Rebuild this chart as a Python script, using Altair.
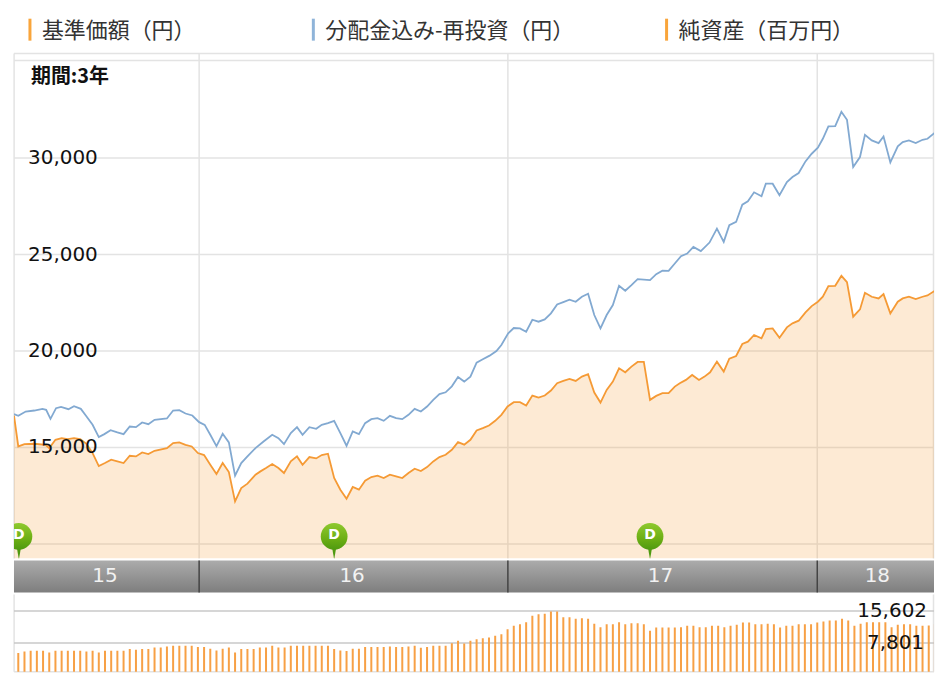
import altair as alt
import pandas as pd

# Week index along the horizontal axis, yen on the vertical axis
blue_x = [-0.69,0,1.2,2.6,3.9,4.5,5.2,6.1,6.9,8.1,9,10.1,10.9,12,13,13.9,14.9,16,17,18,19,20,21,22,24,25,26,27,28.1,29.2,30.1,31,32,33,34,35,36,37,38.3,39.6,41,42,42.9,44,45,45.9,47,48.1,49,50,51,52,53,54,55,56,57,58,59,60,61,62,63,64,65,66,67,68,69,70,71,72,73,74,75,76.1,77.2,78,79.1,80,81,82,83,84,85,86,87,88,89,90,91,92,93,94,95,96,97,98,99,100,102,103,104,105,106,107,108,109,110.2,111.6,112.8,113.9,114.8,115.9,116.9,117.8,118.8,120,120.7,121.8,122.9,124.1,125,126,127.1,128.1,129.1,129.9,130.8,131.9,132.9,133.8,134.8,135.9,136.7,137.8,138.9,139.7,140.8,142,142.8,143.8,144.9,146,146.8,147.9,148.7]
blue_y = [16727,16641,16865,16917,17003,16951,16486,17037,17106,16986,17141,17003,16658,16175,15537,15693,15900,15779,15693,16089,16055,16296,16210,16434,16503,16917,16934,16762,16658,16313,16175,15658,15072,15710,15262,13538,14193,14538,14969,15314,15658,15486,15176,15745,16055,15658,16055,15969,16176,16262,16382,15745,15090,15831,15693,16262,16469,16520,16382,16641,16520,16469,16693,17003,16865,17124,17469,17770,17860,18170,18650,18416,18675,19399,19572,19761,20003,20313,20916,21192,21175,21003,21623,21520,21640,21951,22416,22537,22658,22554,22813,22968,21865,21175,21865,22382,23382,23123,23416,23727,23675,23985,24160,24157,24536,24916,25053,25398,25180,25622,26346,25657,26519,26691,27588,27760,28226,28019,28674,28674,28071,28760,29019,29226,29829,30226,30536,31001,31639,31657,32398,31984,29536,30053,31208,30915,30777,31122,29777,30605,30829,30915,30777,30950,31001,31294,31036]

orange_x = [-0.69,0,1,2.6,4.4,5,6,7,8,9,10,11,12,13,14,15,16,17,18,19,20,21,22,24,25,26,27,28,29,30,31,32,33,34,35,36,37,38.3,39.1,40,41,42,42.9,44,45,45.9,47,48.1,49,50,51,52,53,54,55,56,57,58,59,60,61,62,63,64,65,66,67,68,69,70,71,72,73,74,75,76,77,78,79,80,81,82,83,84,85,86,87,88,89,90,91,92,93,94,95,96,97,98,99,100,101,102,103,104,105,106,106.8,107.8,108.8,109.9,110.8,111.7,112.8,113.9,114.8,115.9,116.9,117.8,118.8,120,120.7,121.8,122.9,124.1,125,126,127.1,128.1,129.1,129.9,130.8,131.9,132.9,133.8,134.8,135.9,136.7,137.8,138.9,139.7,140.8,142,142.8,143.8,144.9,146,146.8,147.9,148.7]
orange_y = [16658,15055,15175,15193,15141,14969,15400,15486,15434,15486,15434,15193,14710,14038,14193,14365,14279,14193,14572,14538,14744,14658,14831,14969,15227,15262,15141,15055,14710,14607,14107,13624,14193,13727,12210,12900,13124,13590,13762,13934,14141,13934,13676,14279,14538,14107,14503,14434,14607,14676,13417,12814,12348,12952,12814,13279,13469,13538,13417,13590,13503,13417,13676,13900,13779,13986,14279,14503,14624,14883,15279,15150,15400,15882,16003,16141,16382,16692,17124,17348,17348,17175,17692,17589,17692,17951,18330,18451,18554,18451,18675,18796,17848,17330,17986,18416,19106,18899,19192,19434,19434,17468,17675,17813,17813,18158,18330,18503,18761,18503,18675,18899,19451,18934,19606,19744,20365,20485,20830,20658,21141,21175,20692,21227,21434,21572,22003,22330,22554,22813,23364,23382,23899,23571,21778,22158,23020,22813,22727,22951,21951,22554,22727,22813,22692,22813,22882,23106,22864]

net_assets = [5357,5761,5923,5923,5923,5519,5923,5923,5923,5923,5923,5761,5923,5519,5923,5923,5923,5923,6327,6165,6327,6327,6731,6731,6973,7134,7134,7134,7134,6811,6811,6407,6003,6407,6731,5519,6327,6327,6327,6731,6731,7134,6731,6731,7134,7134,7134,7134,7134,7134,7134,6327,6003,5842,6407,6407,6811,6811,6811,6811,6973,6811,6811,6973,7134,6650,6811,7134,7134,7134,7781,8347,7700,8347,8750,8993,9155,9559,9963,11175,11983,12387,12871,14407,14811,14891,15457,15457,14083,14083,13679,13841,13679,12467,11659,12387,12387,12871,12387,12629,12629,12387,10771,11579,11579,11579,11579,11659,11983,11983,11659,11659,11983,11983,11659,11983,12225,12790,12790,12387,12387,12467,12387,11579,11983,11983,12387,12387,12387,12790,13033,13275,13275,13679,13275,11983,12467,12871,12871,12871,12871,11659,12225,12387,12387,11983,11983,12063,12387]

y_ticks = [30000, 25000, 20000, 15000]
y_grid = [10000, 15000, 20000, 25000, 30000, 35053, 35415]
year_lines = [29.2, 79.05, 129.0]
year_labels = ["15", "16", "17", "18"]
year_label_x = [14, 53.9, 103.7, 138.7]
pin_x = [0.1, 51, 102]
pin_head_y = [10393, 10393, 10393]
pin_tip_y = [9503, 9503, 9503]
net_ticks = [15602, 7801]
legend_labels = ["基準価額（円）", "分配金込み-再投資（円）", "純資産（百万円）"]
legend_colors = ["#f9a53b", "#8fb4d9", "#f9a53b"]
legend_bar_px = [16, 300, 654]
legend_text_px = [28, 312, 666]

X_DOM = [-0.693, 147.85]
W = 922
Y_FLOOR = 9245
ORANGE = "#f59a35"
BLUE = "#82a9d1"
GRID = "#e3e3e3"
SANS = "DejaVu Sans"
CJK = "Noto Sans CJK JP"

xs = alt.Scale(domain=X_DOM, nice=False, zero=False)
ys = alt.Scale(domain=[Y_FLOOR, 37742], nice=False, zero=False)
X = lambda f="i": alt.X(f"{f}:Q", scale=xs, axis=None)
Y = lambda f="v": alt.Y(f"{f}:Q", scale=ys, axis=None)

blue = pd.DataFrame({"i": blue_x, "v": blue_y})
orange = pd.DataFrame({"i": orange_x, "v": orange_y})

hgrid = alt.Chart(pd.DataFrame({"v": y_grid})).mark_rule(color=GRID, strokeWidth=1.5).encode(
    y=Y(), x=alt.value(0), x2=alt.value(W))
vgrid = alt.Chart(pd.DataFrame({"i": [X_DOM[0] + 0.02] + year_lines + [X_DOM[1] - 0.08], "a": Y_FLOOR, "b": 35415})).mark_rule(
    color=GRID, strokeWidth=1.5).encode(x=X(), y=Y("a"), y2=alt.Y2("b"))
area = alt.Chart(orange).mark_area(color=ORANGE, opacity=0.21, clip=True).encode(
    x=X(), y=Y(), y2=alt.Y2(datum=Y_FLOOR))
line_o = alt.Chart(orange).mark_line(color=ORANGE, strokeWidth=1.8, clip=True).encode(x=X(), y=Y())
line_b = alt.Chart(blue).mark_line(color=BLUE, strokeWidth=1.8, clip=True).encode(x=X(), y=Y())

pin_df = pd.DataFrame({"i": pin_x, "head": pin_head_y, "tip": pin_tip_y, "t": ["D"] * 3})
pin_tail = alt.Chart(pin_df).mark_point(shape="M -0.35 -1 L 0.35 -1 L 0 1 Z", filled=True, fill="#4f9a10", opacity=1,
                                        size=144, clip=True, stroke=None).encode(x=X(), y=Y("tip"))
pin_head = alt.Chart(pin_df).mark_point(
    shape="circle", filled=True, opacity=1, size=720, clip=True, stroke=None,
    fill=alt.Gradient(gradient="linear", x1=0, x2=0, y1=0, y2=1,
                      stops=[alt.GradientStop(offset=0, color="#8fc92f"),
                             alt.GradientStop(offset=0.6, color="#6cae14"),
                             alt.GradientStop(offset=1, color="#4f9a10")])
).encode(x=X(), y=Y("head"))
pin_text = alt.Chart(pin_df).mark_text(color="white", font=SANS, fontSize=14, fontWeight="bold",
                                       baseline="middle", clip=True, dy=-1).encode(x=X(), y=Y("head"), text="t:N")

tick_text = alt.Chart(pd.DataFrame({"v": y_ticks, "t": [f"{v:,}" for v in y_ticks]})).mark_text(
    font=SANS, fontSize=20, color="#111111", align="right", baseline="middle").encode(
    x=alt.value(84), y=Y(), text="t:N")

period = alt.Chart(pd.DataFrame({"t": ["期間:3年"]})).mark_text(
    font=CJK, fontSize=20, fontWeight="bold", color="#111111", align="left", baseline="middle").encode(
    x=alt.value(17), y=alt.value(68), text="t:N")

leg = pd.DataFrame({"t": legend_labels, "c": legend_colors, "bx": legend_bar_px, "tx": legend_text_px})
leg_bars = alt.Chart(leg).mark_rule(strokeWidth=3).encode(
    x=alt.X("bx:Q", scale=None, axis=None), y=alt.value(10), y2=alt.value(32),
    color=alt.Color("c:N", scale=None, legend=None))
leg_text = alt.Chart(leg).mark_text(font=CJK, fontSize=22, color="#333333", align="left", baseline="middle").encode(
    x=alt.X("tx:Q", scale=None, axis=None), y=alt.value(22), text="t:N")

main = alt.layer(hgrid, vgrid, area, line_o, line_b, pin_tail, pin_head, pin_text, tick_text,
                 period, leg_bars, leg_text).properties(width=W, height=551)

band_rect = alt.Chart(pd.DataFrame({"a": [X_DOM[0]], "b": [X_DOM[1]]})).mark_rect(
    fill=alt.Gradient(gradient="linear", x1=0, x2=0, y1=0, y2=1,
                      stops=[alt.GradientStop(offset=0, color="#ababab"),
                             alt.GradientStop(offset=1, color="#7e7e7e")])
).encode(x=X("a"), x2=alt.X2("b"))
band_lines = alt.Chart(pd.DataFrame({"i": year_lines})).mark_rule(color="#444444", strokeWidth=1.5).encode(x=X())
band_text = alt.Chart(pd.DataFrame({"i": year_label_x, "t": year_labels})).mark_text(
    font=SANS, fontSize=20, color="#f2f2f2", baseline="middle").encode(x=X(), y=alt.value(16), text="t:N")
band = alt.layer(band_rect, band_lines, band_text).properties(width=W, height=32)

ns = alt.Scale(domain=[700, 19600], nice=False, zero=False)
NY = lambda f="v": alt.Y(f"{f}:Q", scale=ns, axis=None)
bars_df = pd.DataFrame({"i": list(range(len(net_assets))), "v": net_assets, "b": 825})
b_rules = alt.Chart(pd.DataFrame({"v": net_ticks})).mark_rule(color="#c8c8c8", strokeWidth=1.5).encode(
    y=NY(), x=alt.value(0), x2=alt.value(W))
b_base = alt.Chart(pd.DataFrame({"v": [825]})).mark_rule(color=GRID, strokeWidth=1.5).encode(
    y=NY(), x=alt.value(0), x2=alt.value(W))
b_edges = alt.Chart(pd.DataFrame({"i": [X_DOM[0] + 0.02, X_DOM[1] - 0.08], "a": 825, "b": 19600})).mark_rule(
    color=GRID, strokeWidth=1.5).encode(x=X(), y=NY("a"), y2=alt.Y2("b"))
b_bars = alt.Chart(bars_df).mark_rule(color="#f7a045", strokeWidth=2, clip=True).encode(x=X(), y=NY(), y2=alt.Y2("b"))
b_text = alt.Chart(pd.DataFrame({"v": net_ticks, "t": [f"{v:,}" for v in net_ticks], "px": [915, 912]})).mark_text(
    font=SANS, fontSize=20, color="#111111", align="right", baseline="middle").encode(
    x=alt.X("px:Q", scale=None, axis=None), y=NY(), text="t:N")
bars = alt.layer(b_edges, b_base, b_rules, b_bars, b_text).properties(width=W, height=78)

chart = alt.vconcat(main, band, bars, spacing=0).resolve_scale(
    x="independent", y="independent").properties(
    padding={"left": 5, "top": 0, "right": 0, "bottom": 0}, background="white"
).configure_view(stroke=None)

chart.save("out.html", embed_options={"renderer": "svg", "actions": False})
